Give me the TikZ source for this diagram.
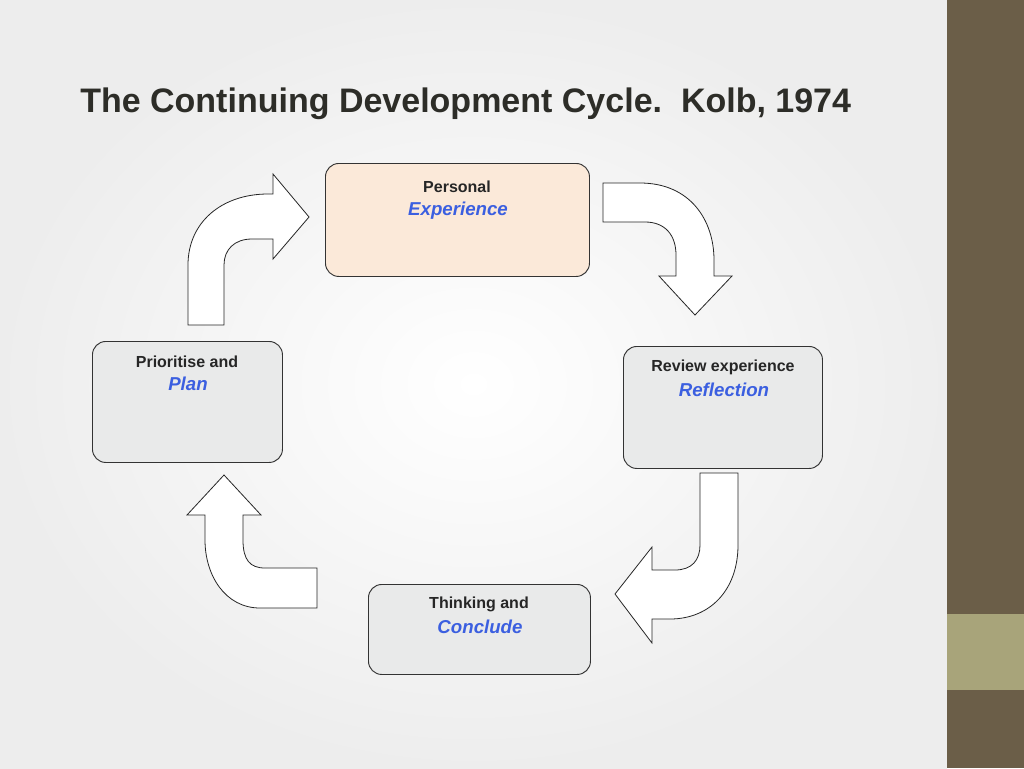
\documentclass[tikz,border=0pt]{standalone}
\usepackage{fontspec}
\setmainfont{Liberation Sans}
\definecolor{strip}{RGB}{107,94,72}
\definecolor{stripl}{RGB}{168,164,122}
\definecolor{peach}{RGB}{251,233,217}
\definecolor{grayb}{RGB}{233,234,234}
\definecolor{blu}{RGB}{59,95,224}
\definecolor{ttl}{RGB}{45,45,40}
\begin{document}
\begin{tikzpicture}[x=0.75pt,y=-0.75pt,
  box/.style={draw=black!80,line width=0.7pt,rounded corners=10pt,anchor=north west,inner sep=0pt},
  top/.style={font=\bfseries\fontsize{12}{14}\selectfont,text=black!85},
  sub/.style={font=\bfseries\itshape\fontsize{14}{16}\selectfont,text=blu},
  arr/.style={draw=black!85,line width=0.6pt,fill=white}]
\useasboundingbox (0,0) rectangle (1024,768);
\shade[inner color=white,outer color=black!7] (0,0) rectangle (947,768);
\fill[strip] (947,0) rectangle (1024,768);
\fill[stripl] (947,614) rectangle (1024,690);
\node[anchor=west,inner sep=0pt,font=\bfseries\fontsize{25.5}{30}\selectfont,text=ttl] (title) at (80,104) {The Continuing Development Cycle.\ \ Kolb, 1974};
\node[box,fill=peach,minimum width=264*0.75pt,minimum height=113*0.75pt] (pe) at (325,163) {};
\node[box,fill=grayb,minimum width=190*0.75pt,minimum height=121*0.75pt] (pp) at (92,341) {};
\node[box,fill=grayb,minimum width=199*0.75pt,minimum height=122*0.75pt] (rr) at (623,346) {};
\node[box,fill=grayb,minimum width=222*0.75pt,minimum height=90*0.75pt] (tc) at (368,584) {};
\node[top] (t1) at (457,187) {Personal};
\node[sub] (s1) at (458,211) {Experience};
\node[top] (t2) at (187,362) {Prioritise and};
\node[sub] (s2) at (188,384) {Plan};
\node[top] (t3) at (723,367) {Review experience};
\node[sub] (s3) at (724,390) {Reflection};
\node[top] (t4) at (479,604) {Thinking and};
\node[sub] (s4) at (480,627) {Conclude};
% arrows
\draw[arr] (188,325) -- (188,265) .. controls (188,222) and (222,194) .. (268,194) -- (273,194) -- (273,174) -- (309,217) -- (273,259) -- (273,239) -- (252,239) .. controls (234,239) and (224,250) .. (224,265) -- (224,325) -- cycle;
\draw[arr] (603,183) -- (640,183) .. controls (690,183) and (714,220) .. (714,260) -- (714,276) -- (732,276) -- (695,315) -- (659,276) -- (676,276) -- (676,255) .. controls (676,235) and (665,222) .. (645,222) -- (603,222) -- cycle;
\draw[arr] (700,473) -- (738,473) -- (738,545) .. controls (738,590) and (710,619) .. (670,619) -- (652,619) -- (652,643) -- (615,594) -- (652,547) -- (652,570) -- (675,570) .. controls (692,570) and (700,560) .. (700,545) -- cycle;
\draw[arr] (224,475) -- (261,515) -- (243,515) -- (243,540) .. controls (243,560) and (250,568) .. (265,568) -- (317,568) -- (317,608) -- (260,608) .. controls (225,608) and (205,575) .. (205,540) -- (205,515) -- (187,515) -- cycle;
\end{tikzpicture}
\end{document}
